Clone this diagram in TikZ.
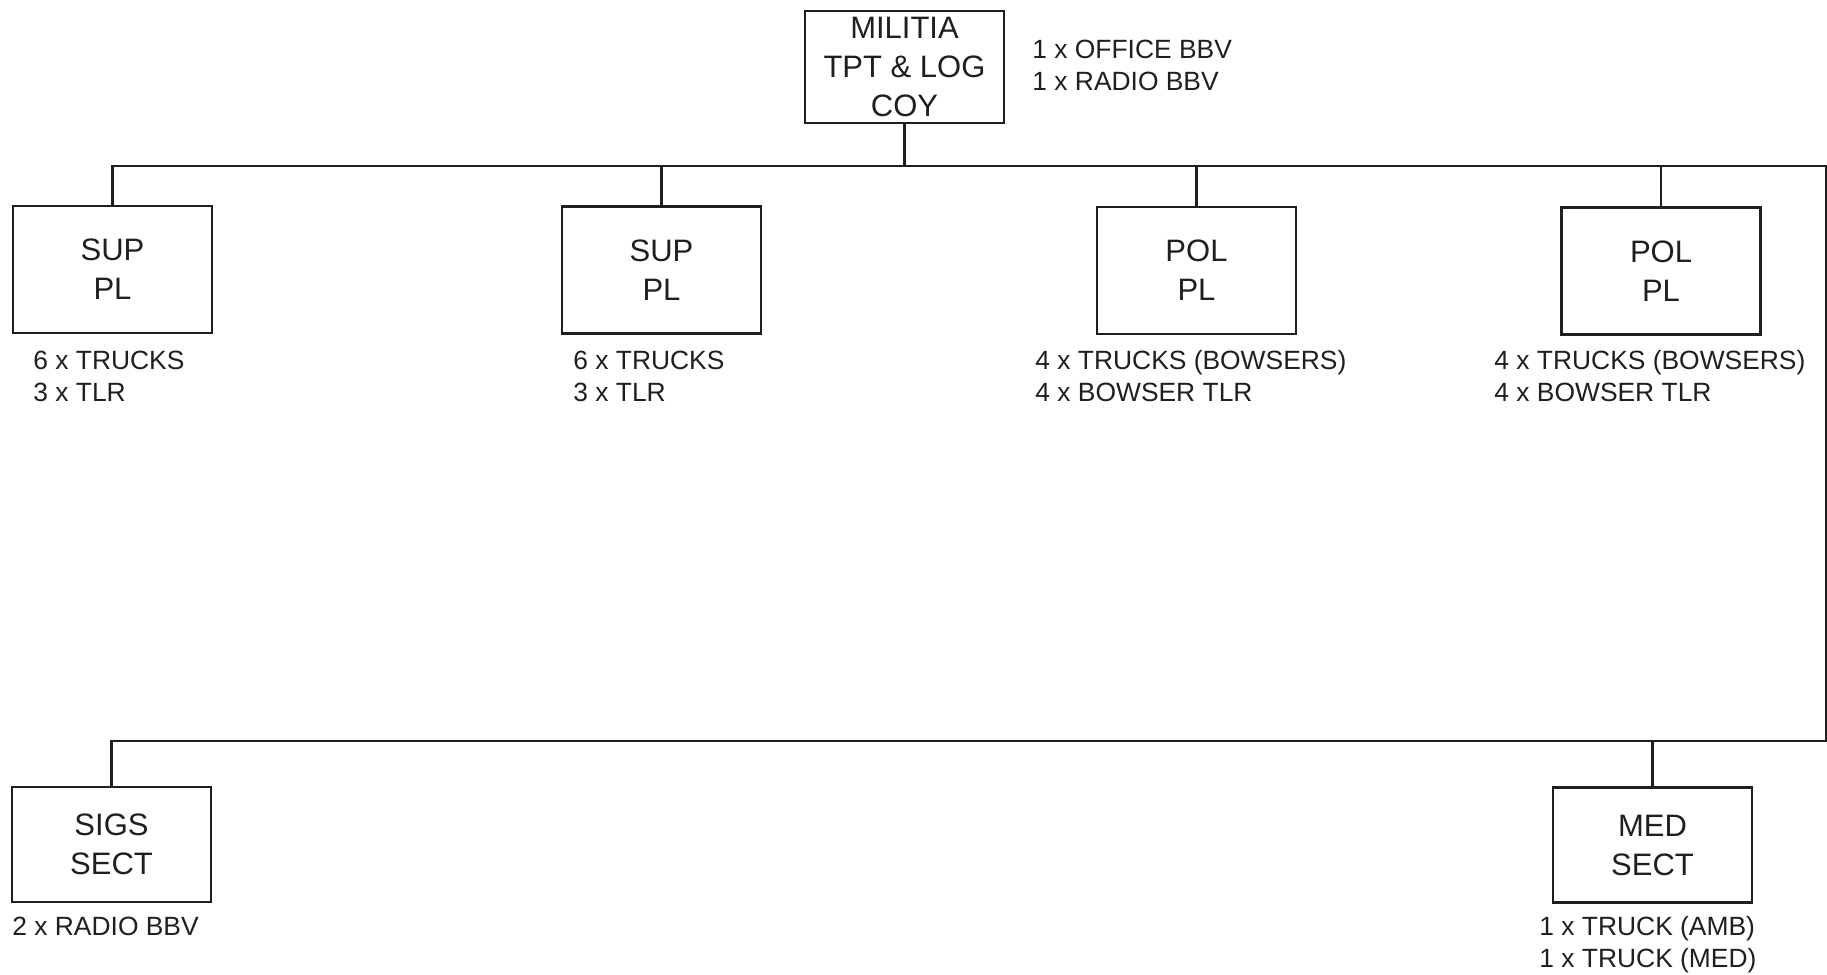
\documentclass[tikz,border=0pt]{standalone}
\usepackage{fontspec}
\setmainfont{Liberation Sans}
\usetikzlibrary{positioning}

\begin{document}
\begin{tikzpicture}[
    x=0.5pt,
    y=-0.5pt,
    text=black!88,
    unit/.style={
        rectangle,
        draw=black!88,
        line width=1.25pt,
        minimum width=99.5pt,
        minimum height=63.5pt,
        align=center,
        inner sep=0pt,
        font=\fontsize{15.5}{19.5}\selectfont
    },
    kit/.style={
        anchor=base west,
        align=left,
        inner sep=0pt,
        font=\fontsize{13.2}{16}\selectfont
    },
    bus/.style={line width=1.25pt, draw=black!88}
]

\useasboundingbox (0,0) rectangle (1827,975);

\node[unit, minimum height=56pt] (hq) at (904.5,67) {MILITIA\\TPT \& LOG\\COY};
\node[kit] (hqkit) at (1032,90) {1 x OFFICE BBV\\1 x RADIO BBV};

\node[unit] (sup1) at (112.5,269.5) {SUP\\PL};
\node[unit] (sup2) at (661.5,270) {SUP\\PL};
\node[unit] (pol1) at (1196.5,270.5) {POL\\PL};
\node[unit] (pol2) at (1661,271) {POL\\PL};

% base anchor sits on the last line
\node[kit] (sup1kit) at (33,401) {6 x TRUCKS\\3 x TLR};
\node[kit] (sup2kit) at (573,401) {6 x TRUCKS\\3 x TLR};
\node[kit] (pol1kit) at (1035,401) {4 x TRUCKS (BOWSERS)\\4 x BOWSER TLR};
\node[kit] (pol2kit) at (1494,401) {4 x TRUCKS (BOWSERS)\\4 x BOWSER TLR};

\node[unit, minimum height=57.5pt] (sigs) at (111.5,844.5) {SIGS\\SECT};
\node[unit, minimum height=57.5pt] (med) at (1652.5,845) {MED\\SECT};

\node[kit] (sigskit) at (12,935) {2 x RADIO BBV};
\node[kit] (medkit) at (1539,967) {1 x TRUCK (AMB)\\1 x TRUCK (MED)};

\coordinate (busTR) at (1826,166);
\coordinate (busBR) at (1826,741);

\draw[bus] (sup1.north) |- (busTR) -- (busBR) -| (sigs.north);
\draw[bus] (hq.south) -- (hq.south |- busTR);
\foreach \u in {sup2,pol1,pol2}
    \draw[bus] (\u.north) -- (\u.north |- busTR);
\draw[bus] (med.north) -- (med.north |- busBR);

\end{tikzpicture}
\end{document}
